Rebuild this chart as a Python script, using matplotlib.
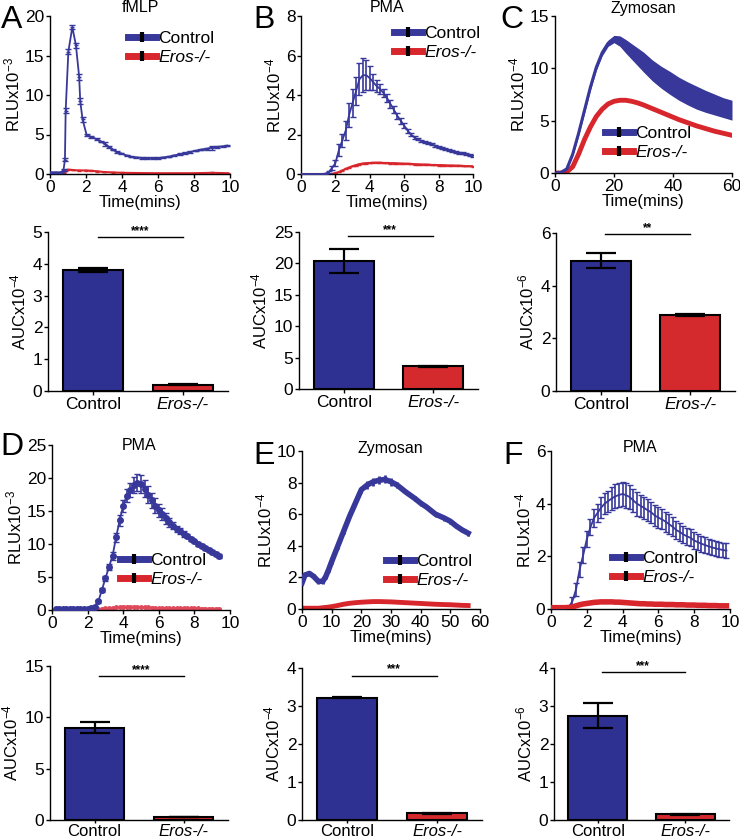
import numpy as np
import matplotlib
matplotlib.use("Agg")
import matplotlib.pyplot as plt
from matplotlib.lines import Line2D

plt.rcParams['font.family'] = ['Liberation Sans', 'DejaVu Sans']
plt.rcParams['mathtext.default'] = 'regular'

BLUE = '#37389a'
RED = '#d8262d'
BAR_BLUE = '#2e3192'
BAR_RED = '#d42a2e'

# ---------------- data ----------------
# A: fMLP (RLU x10^-3)
A_t_ctrl = [0.0, 0.2, 0.4, 0.6, 0.75, 0.83, 0.87, 1.02, 1.24, 1.44, 1.62, 1.68, 1.81, 2.04, 2.3,
            2.6, 2.85, 3.05, 3.3, 3.5, 3.7, 3.95, 4.25, 4.5, 4.8, 5.1, 5.4, 5.7, 6.0, 6.3,
            6.6, 6.9, 7.2, 7.5, 7.8, 8.1, 8.4, 8.7, 9.0, 9.3, 9.6, 9.85]
A_ctrl = [0.2, 0.2, 0.2, 0.2, 0.5, 1.8, 8.0, 15.5, 18.6, 16.3, 12.3, 9.2, 6.9, 4.9, 4.7,
          4.4, 4.1, 3.8, 3.4, 3.1, 2.8, 2.6, 2.35, 2.2, 2.1, 2.05, 2.0, 2.0, 2.0, 2.1,
          2.2, 2.35, 2.5, 2.65, 2.8, 2.95, 3.1, 3.2, 3.35, 3.45, 3.5, 3.6]
A_ctrl_err = [0.05, 0.05, 0.05, 0.05, 0.1, 0.2, 0.3, 0.3, 0.3, 0.3, 0.4, 0.4, 0.3, 0.15, 0.1,
              0.1, 0.1, 0.25, 0.1, 0.1, 0.1, 0.1, 0.1, 0.1, 0.1, 0.1, 0.1, 0.1, 0.1, 0.1,
              0.1, 0.1, 0.1, 0.1, 0.1, 0.1, 0.1, 0.1, 0.25, 0.15, 0.1, 0.1]
A_t_ko = [0.0, 0.3, 0.6, 0.8, 0.9, 1.0, 1.3, 1.6, 2.0, 2.3, 2.6, 3.0, 3.5, 4.0, 5.0, 6.0, 7.0, 8.0, 9.0, 9.9]
A_ko = [0.1, 0.1, 0.1, 0.2, 0.4, 0.55, 0.5, 0.45, 0.45, 0.4, 0.35, 0.25, 0.2, 0.15, 0.12, 0.1, 0.1, 0.1, 0.15, 0.1]

# B: PMA (RLU x10^-4)
B_t = np.round(np.arange(0, 10.01, 0.2), 2)
B_ctrl = [0, 0, 0, 0, 0, 0, 0, 0.02, 0.08, 0.3, 0.55, 1.2, 1.7, 2.2, 3.0, 3.6, 4.2, 4.8, 5.0, 5.0,
          4.85, 4.65, 4.45, 4.3, 4.1, 3.85, 3.55, 3.25, 2.95, 2.7, 2.45, 2.2, 2.0, 1.85, 1.75,
          1.68, 1.62, 1.56, 1.5, 1.44, 1.38, 1.32, 1.26, 1.2, 1.15, 1.1, 1.07, 1.04, 1.0, 0.96, 0.93]
B_ctrl_err = [0, 0, 0, 0, 0, 0, 0, 0,
              0.05, 0.1, 0.15, 0.3, 0.35, 0.5, 0.6, 0.7, 0.7, 0.8, 0.85, 0.75, 0.6, 0.4, 0.3, 0.25,
              0.2, 0.2, 0.2, 0.18, 0.15, 0.15, 0.12, 0.1, 0.08, 0.06,
              0.05, 0.05, 0.05, 0.05, 0.05, 0.05, 0.05, 0.05, 0.05, 0.05, 0.05, 0.05, 0.05, 0.05, 0.05, 0.05, 0.05]
B_ko = [0, 0, 0, 0, 0, 0, 0, 0, 0, 0,
        0.05, 0.1, 0.18, 0.26, 0.33, 0.4, 0.45, 0.5, 0.53, 0.55, 0.56, 0.57, 0.57, 0.57, 0.56,
        0.56, 0.55, 0.55, 0.54, 0.53, 0.52, 0.52, 0.51, 0.5, 0.49, 0.48, 0.48, 0.47, 0.46, 0.46,
        0.45, 0.45, 0.44, 0.43, 0.43, 0.42, 0.42, 0.41, 0.4, 0.4, 0.39]

# C: Zymosan (RLU x10^-4)
C_t = [0, 2, 4, 6, 8, 10, 12, 14, 16, 18, 20, 22, 24, 26, 28, 30, 33, 36, 39, 42, 45, 48, 51, 54, 57, 60]
C_ctrl = [0, 0.05, 0.4, 1.8, 3.8, 6.0, 8.2, 10.1, 11.5, 12.4, 12.8, 12.6, 12.1, 11.6, 11.1, 10.6,
          9.8, 9.15, 8.6, 8.05, 7.6, 7.2, 6.85, 6.55, 6.25, 6.0]
C_ctrl_err = [0, 0, 0.15, 0.2, 0.25, 0.3, 0.3, 0.3, 0.3, 0.3, 0.35, 0.5, 0.65, 0.75, 0.85, 0.95,
              1.0, 1.05, 1.1, 1.1, 1.1, 1.1, 1.05, 1.0, 0.95, 0.95]
C_ko = [0, 0, 0.1, 0.6, 1.8, 3.2, 4.4, 5.4, 6.1, 6.6, 6.85, 6.95, 6.95, 6.85, 6.7, 6.5,
        6.15, 5.8, 5.45, 5.1, 4.8, 4.5, 4.25, 4.0, 3.8, 3.6]

# D: PMA (RLU x10^-3)
D_t = np.round(np.arange(0.2, 9.41, 0.2), 2)
D_ctrl = [0.1, 0.1, 0.1, 0.1, 0.1, 0.1, 0.1, 0.1, 0.1, 0.15,
          0.25, 0.5, 1.3, 3.0, 4.8, 6.5, 8.2, 11.0, 13.6, 15.8, 17.3, 18.2, 18.9, 19.3, 19.1,
          18.4, 17.5, 16.6, 15.8, 15.1, 14.5, 13.9, 13.3, 12.8, 12.3, 11.9, 11.5, 11.2, 10.8, 10.4,
          10.0, 9.7, 9.4, 9.1, 8.8, 8.5, 8.2]
D_ctrl_err = [0, 0, 0, 0, 0, 0, 0, 0, 0, 0, 0, 0,
              0.2, 0.3, 0.4, 0.5, 0.6, 0.7, 0.8, 0.9, 1.0, 1.1, 1.2, 1.3, 1.4, 1.3, 1.3,
              1.2, 1.1, 1.0, 0.9, 0.8, 0.7, 0.6, 0.5, 0.45, 0.4, 0.35, 0.3,
              0.25, 0.25, 0.25, 0.25, 0.25, 0.25, 0.25, 0.25]
D_ko = [0.1] * 12 + [0.15, 0.2, 0.25, 0.3, 0.35, 0.4, 0.45, 0.5, 0.5, 0.5, 0.5, 0.45, 0.45, 0.4, 0.4,
                     0.35, 0.35, 0.3,
                     0.3, 0.3, 0.3, 0.28, 0.28, 0.26, 0.26, 0.25, 0.25, 0.24, 0.24, 0.22, 0.22, 0.2, 0.2, 0.2, 0.2]

# E: Zymosan (RLU x10^-4)
E_t = [0, 1, 2.5, 4, 5.5, 7, 8, 9, 10, 12, 14, 16, 18, 20, 22, 24, 26, 28, 30, 32, 35, 38, 40, 42, 45,
       48, 50, 52, 54, 56]
E_ctrl = [1.65, 2.15, 2.25, 2.05, 1.75, 1.75, 2.05, 2.5, 3.0, 3.95, 4.9, 5.85, 6.7, 7.55, 7.85, 8.05,
          8.15, 8.2, 8.05, 7.85, 7.4, 7.0, 6.7, 6.45, 6.0, 5.75, 5.55, 5.25, 5.0, 4.8]
E_ctrl_err = [0.15, 0.15, 0.15, 0.15, 0.15, 0.15, 0.15, 0.15, 0.15, 0.15, 0.15, 0.15, 0.2, 0.2, 0.25,
              0.25, 0.25, 0.25, 0.25, 0.2, 0.15, 0.15, 0.15, 0.15, 0.15, 0.15, 0.15, 0.15, 0.15, 0.15]
E_ko = [0.05, 0.05, 0.05, 0.05, 0.05, 0.08, 0.1, 0.12, 0.15, 0.22, 0.3, 0.36, 0.4, 0.43, 0.45, 0.47,
        0.47, 0.46, 0.45, 0.43, 0.4, 0.37, 0.35, 0.33, 0.3, 0.28, 0.27, 0.25, 0.23, 0.22]

# F: PMA (RLU x10^-4)
F_t = np.round(np.arange(0, 9.81, 0.2), 2)
F_ctrl = [0.05, 0.05, 0.05, 0.05, 0.05,
          0.08, 0.3, 0.75, 1.5, 2.05, 2.65, 3.1, 3.45, 3.65, 3.85, 4.0, 4.1, 4.2, 4.28, 4.33,
          4.37, 4.32, 4.25, 4.12, 4.0, 3.92, 3.84, 3.75, 3.67, 3.55, 3.47, 3.4, 3.32, 3.22, 3.12,
          3.0, 2.92, 2.83, 2.76, 2.7, 2.6, 2.54, 2.48, 2.43, 2.38, 2.34, 2.3, 2.27, 2.24, 2.22]
F_ctrl_err = [0.02] * 6 + [0.15, 0.25, 0.3, 0.3, 0.3, 0.3, 0.35, 0.35, 0.4, 0.4, 0.4, 0.45, 0.45, 0.47,
                           0.47, 0.47, 0.45, 0.45, 0.45, 0.42,
                           0.42, 0.42, 0.4, 0.4, 0.4, 0.38, 0.38, 0.37, 0.36, 0.35, 0.35, 0.34,
                           0.33, 0.32, 0.31, 0.3, 0.3, 0.3, 0.29, 0.29, 0.28, 0.28, 0.28, 0.28]
F_ko = [0.05, 0.05, 0.05, 0.05, 0.05, 0.06,
        0.08, 0.12, 0.16, 0.19, 0.21, 0.23, 0.25, 0.26, 0.27, 0.27, 0.27, 0.27, 0.26, 0.26,
        0.25, 0.24, 0.23, 0.22, 0.21, 0.2,
        0.2, 0.19, 0.19, 0.18, 0.18, 0.18, 0.17, 0.17, 0.17, 0.16, 0.16, 0.16, 0.15, 0.15,
        0.15, 0.14, 0.14, 0.14, 0.13, 0.13, 0.13, 0.12, 0.12, 0.12]

# Bar charts (AUC)
groups = ['Control', 'Eros-/-']
A_auc = [3.8, 0.2];   A_auc_err = [0.07, 0.01]
B_auc = [20.4, 3.6];  B_auc_err = [1.9, 0.12]
C_auc = [4.95, 2.88]; C_auc_err = [0.28, 0.05]
D_auc = [9.0, 0.3];   D_auc_err = [0.55, 0.02]
E_auc = [3.22, 0.18]; E_auc_err = [0.02, 0.01]
F_auc = [2.75, 0.15]; F_auc_err = [0.33, 0.01]

# ---------------- figure ----------------
W, H = 740, 839
fig = plt.figure(figsize=(W / 100, H / 100), dpi=100)

TICK_FS = 12.5
LAB_FS = 12
LEG_FS = 12.5


def axpx(l, t, r, b):
    return fig.add_axes([l / W, 1 - b / H, (r - l) / W, (b - t) / H])


def style(ax):
    for s in ['top', 'right']:
        ax.spines[s].set_visible(False)
    for s in ['left', 'bottom']:
        ax.spines[s].set_linewidth(1.0)
    ax.tick_params(direction='out', length=3, width=1.0, labelsize=TICK_FS, pad=1.0)


def legend(ax, hx, ry):
    # hx: handle left pixel, ry: first row centre pixel
    hs = [Line2D([0], [0], color=BLUE, lw=5, marker='|', markersize=7, markeredgewidth=3,
                 markeredgecolor='black'),
          Line2D([0], [0], color=RED, lw=5, marker='|', markersize=7, markeredgewidth=3,
                 markeredgecolor='black')]
    leg = ax.legend(hs, ['Control', 'Eros-/-'], loc='upper left',
                    bbox_to_anchor=(hx / W, 1 - (ry - 9) / H), bbox_transform=fig.transFigure,
                    frameon=False, fontsize=LEG_FS, borderpad=0, borderaxespad=0,
                    handlelength=1.6, handletextpad=0.15, labelspacing=0.2)
    leg.get_texts()[1].set_fontstyle('italic')


def line_panel(box, xlim, xt, ylim, yt, exp, title, tx, ty, letter, lx, ly):
    ax = axpx(*box)
    style(ax)
    ax.set_xlim(*xlim)
    ax.set_ylim(*ylim)
    ax.set_xticks(xt)
    ax.set_yticks(yt)
    ax.set_ylabel('RLUx10$^{%s}$' % exp, fontsize=LAB_FS, labelpad=2)
    fig.text(tx / W, 1 - ty / H, title, ha='center', va='center', fontsize=11.5)
    fig.text(lx / W, 1 - ly / H, letter, ha='center', va='center', fontsize=23)
    return ax


# Row 1 line plots
axA = line_panel((50, 16, 230, 174), (0, 10), [0, 2, 4, 6, 8, 10], (0, 20), [0, 5, 10, 15, 20], '-3',
                 'fMLP', 140, 8, 'A', 12, 20)
axA.errorbar(A_t_ko, A_ko, yerr=0.05, color=RED, lw=1.5, capsize=1.5, elinewidth=1, zorder=2)
axA.errorbar(A_t_ctrl, A_ctrl, yerr=A_ctrl_err, color=BLUE, lw=1.3, capsize=2, elinewidth=1,
             marker='_', markersize=3, zorder=3)
legend(axA, 128, 40)

axB = line_panel((301, 16, 473, 174), (0, 10), [0, 2, 4, 6, 8, 10], (0, 8), [0, 2, 4, 6, 8], '-4',
                 'PMA', 387, 8, 'B', 264, 20)
axB.errorbar(B_t, B_ko, yerr=0.02, color=RED, lw=1.5, capsize=1.5, elinewidth=1, zorder=2)
axB.errorbar(B_t, B_ctrl, yerr=B_ctrl_err, color=BLUE, lw=1.3, capsize=2.5, elinewidth=1.2, zorder=3)
legend(axB, 394, 35)

axC = line_panel((555, 16, 732, 173), (0, 60), [0, 20, 40, 60], (0, 15), [0, 5, 10, 15], '-4',
                 'Zymosan', 643, 8, 'C', 512, 20)
C_lo = [m - e for m, e in zip(C_ctrl, C_ctrl_err)]
C_hi = [m + e for m, e in zip(C_ctrl, C_ctrl_err)]
axC.fill_between(C_t, C_lo, C_hi, color=BLUE, lw=0, zorder=3)
axC.plot(C_t, C_ctrl, color=BLUE, lw=2.2, zorder=3)
axC.plot(C_t, C_ko, color=RED, lw=3.5, zorder=2)
legend(axC, 605, 135)
for ax in (axA, axB, axC):
    ax.set_xlabel('Time(mins)', fontsize=LAB_FS, labelpad=0)


def bar_panel(box, vals, errs, ylim, yt, exp, stars, sy, xfs=12.5, xpad=1.0, xlen=3):
    ax = axpx(*box)
    style(ax)
    ax.bar([0, 1], vals, width=0.67, color=[BAR_BLUE, BAR_RED], edgecolor='black', lw=1.5, zorder=2)
    ax.errorbar([0, 1], vals, yerr=errs, fmt='none', ecolor='black', elinewidth=1.6, capsize=11,
                capthick=1.6, zorder=3)
    ax.set_xlim(-0.5, 1.5)
    ax.set_ylim(*ylim)
    ax.set_yticks(yt)
    ax.set_xticks([0, 1])
    ax.set_xticklabels(groups, fontsize=xfs)
    ax.tick_params(axis='x', pad=xpad, length=xlen)
    ax.get_xticklabels()[1].set_fontstyle('italic')
    ax.set_ylabel('AUCx10$^{%s}$' % exp, fontsize=LAB_FS, labelpad=3)
    ax.plot([0.05, 1.0], [sy, sy], color='black', lw=1.0, clip_on=False)
    ax.text(0.52, sy, stars, ha='center', va='bottom', fontsize=8.5, fontweight='bold')
    return ax


# Row 1 bar plots
bar_panel((48, 232, 228, 391), A_auc, A_auc_err, (0, 5), [0, 1, 2, 3, 4, 5], '-4', '****', 4.84)
bar_panel((299, 232, 478, 389), B_auc, B_auc_err, (0, 25), [0, 5, 10, 15, 20, 25], '-4', '***', 24.4)
bar_panel((556, 233, 735, 391), C_auc, C_auc_err, (0, 6), [0, 2, 4, 6], '-6', '**', 5.96)

# Row 2 line plots
axD = line_panel((52, 445, 230, 610), (0, 10), [0, 2, 4, 6, 8, 10], (0, 25), [0, 5, 10, 15, 20, 25],
                 '-3', 'PMA', 139, 446, 'D', 12, 447)
axD.errorbar(D_t, D_ko, yerr=0.05, color='#e04a5a', lw=1.3, marker='o', markersize=2.5,
             capsize=1.5, elinewidth=1, zorder=2)
axD.errorbar(D_t, D_ctrl, yerr=D_ctrl_err, color=BLUE, lw=1.3, marker='o', markersize=4,
             capsize=2.5, elinewidth=1.2, zorder=3)
legend(axD, 120, 562)

axE = line_panel((302, 451, 480, 609), (0, 60), [0, 10, 20, 30, 40, 50, 60], (0, 10),
                 [0, 2, 4, 6, 8, 10], '-4', 'Zymosan', 390, 448, 'E', 264, 456)
axE.plot(E_t, E_ko, color=RED, lw=3.5, zorder=2)
axE.errorbar(E_t, E_ctrl, yerr=E_ctrl_err, color=BLUE, lw=4, elinewidth=2, capsize=0, zorder=3)
legend(axE, 386, 563)

axF = line_panel((551, 451, 730, 609), (0, 10), [0, 2, 4, 6, 8, 10], (0, 6), [0, 2, 4, 6], '-4',
                 'PMA', 640, 447, 'F', 513, 456)
axF.plot(F_t, F_ko, color=RED, lw=4, zorder=4)
axF.errorbar(F_t, F_ctrl, yerr=F_ctrl_err, color=BLUE, lw=1.3, capsize=2.5, elinewidth=1.2, zorder=3)
legend(axF, 612, 560)
for ax in (axD, axE, axF):
    ax.set_xlabel('Time(mins)', fontsize=LAB_FS, labelpad=0)

# Row 2 bar plots
bar_panel((50, 666, 228, 820), D_auc, D_auc_err, (0, 15), [0, 5, 10, 15], '-4', '****', 14.0,
          xfs=12, xpad=0.3, xlen=2.5)
bar_panel((302, 668, 482, 820), E_auc, E_auc_err, (0, 4), [0, 1, 2, 3, 4], '-4', '***', 3.8,
          xfs=12, xpad=0.3, xlen=2.5)
bar_panel((554, 668, 729, 820), F_auc, F_auc_err, (0, 4), [0, 1, 2, 3, 4], '-6', '***', 3.9,
          xfs=12, xpad=0.3, xlen=2.5)

fig.savefig('out.png', dpi=100)
